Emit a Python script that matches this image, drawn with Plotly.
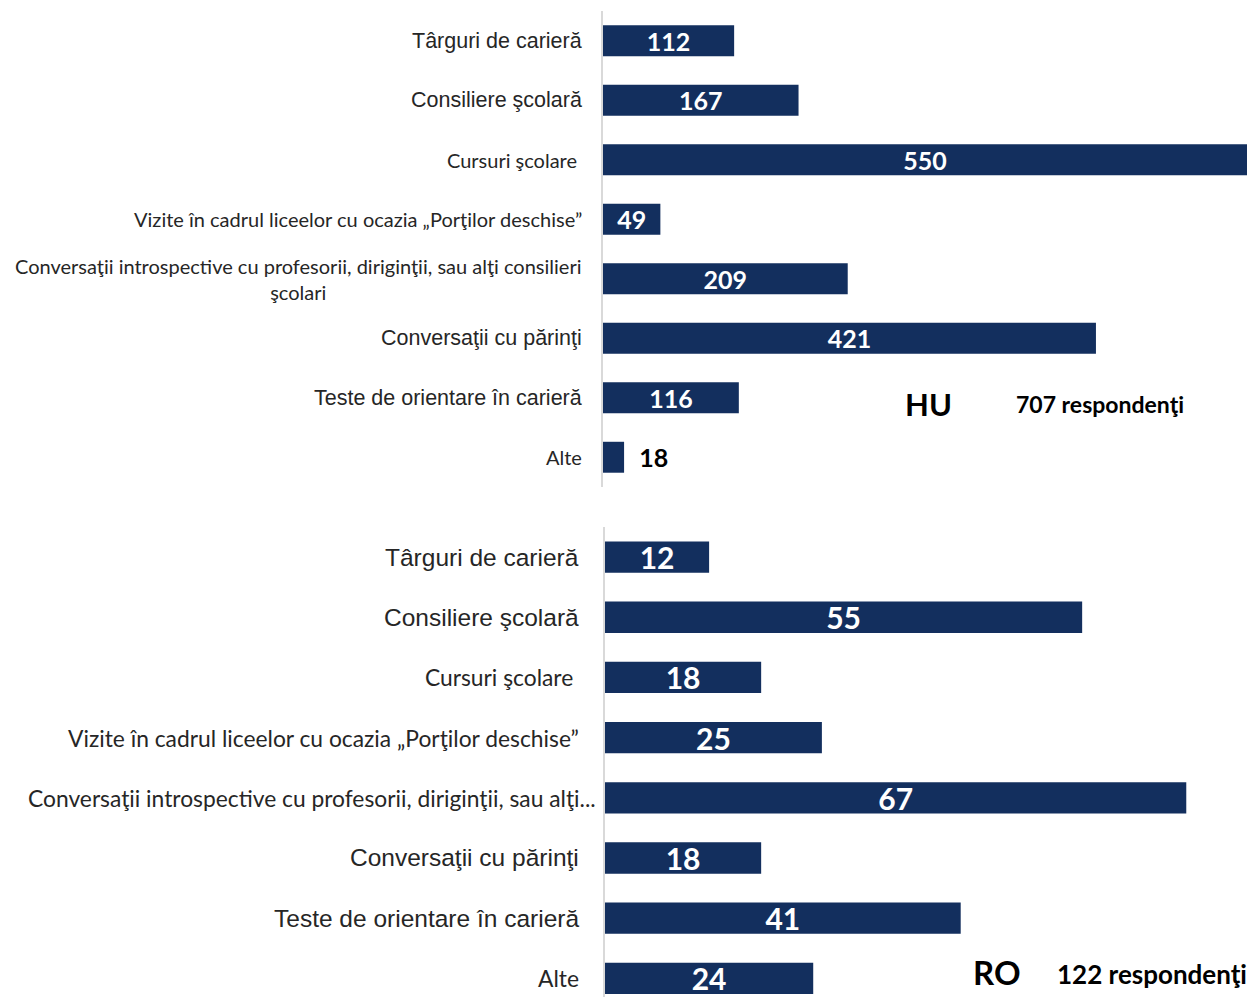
import plotly.graph_objects as go

# page body has an 8px default margin; figure sized to fit the window
OFF = 8
W, H = 1255 - 2 * OFF, 1005 - 2 * OFF

categories = [
    "Târguri de carieră",
    "Consiliere şcolară",
    "Cursuri şcolare",
    "Vizite în cadrul liceelor cu ocazia „Porţilor deschise”",
    "Conversaţii introspective cu profesorii, diriginţii, sau alţi consilieri şcolari",
    "Conversaţii cu părinţi",
    "Teste de orientare în carieră",
    "Alte",
]
labels_hu = [
    "Târguri de carieră",
    "Consiliere şcolară",
    "Cursuri şcolare ",
    "Vizite în cadrul liceelor cu ocazia „Porţilor deschise”",
    "Conversaţii introspective cu profesorii, diriginţii, sau alţi consilieri<br>şcolari",
    "Conversaţii cu părinţi",
    "Teste de orientare în carieră",
    "Alte",
]
labels_ro = [
    "Târguri de carieră",
    "Consiliere şcolară",
    "Cursuri şcolare ",
    "Vizite în cadrul liceelor cu ocazia „Porţilor deschise”",
    "Conversaţii introspective cu profesorii, diriginţii, sau alţi...",
    "Conversaţii cu părinţi",
    "Teste de orientare în carieră",
    "Alte",
]
# which labels look Arial-like (True) vs Calibri-like (False)
arial_like = [True, True, False, False, False, True, True, False]

values_hu = [112, 167, 550, 49, 209, 421, 116, 18]
values_ro = [12, 55, 18, 25, 67, 18, 41, 24]

title_hu = "HU"
resp_hu = "707 respondenţi"
title_ro = "RO"
resp_ro = "122 respondenţi"

BAR = "#132f5e"
ARIAL = "Liberation Sans, Arial, sans-serif"
CAL = "Lato, sans-serif"


def px(x):
    return (x - OFF) / W


def py(y):
    return 1 - (y - OFF) / H


fig = go.Figure()

pos_hu = ["inside" if v > 30 else "outside" for v in values_hu]
col_hu = ["white" if v > 30 else "black" for v in values_hu]
text_hu = [str(v) if v > 30 else "\u00a0\u00a0" + str(v) for v in values_hu]

fig.add_trace(go.Bar(
    y=categories, x=values_hu, orientation="h",
    marker=dict(color=BAR, line=dict(width=0)),
    width=0.52,
    text=text_hu,
    textposition=pos_hu, insidetextanchor="middle", textangle=0,
    textfont=dict(family=CAL, size=25, color=col_hu, weight="bold"),
    constraintext="none", cliponaxis=False,
    xaxis="x", yaxis="y", showlegend=False, hoverinfo="skip",
))

fig.add_trace(go.Bar(
    y=categories, x=values_ro, orientation="h",
    marker=dict(color=BAR, line=dict(width=0)),
    width=0.52,
    text=[str(v) for v in values_ro],
    textposition="inside", insidetextanchor="middle", textangle=0,
    textfont=dict(family=CAL, size=30, color="white", weight="bold"),
    constraintext="none", cliponaxis=False,
    xaxis="x2", yaxis="y2", showlegend=False, hoverinfo="skip",
))

ann = []
for i, c in enumerate(categories):
    ann.append(dict(
        x=px(584), xref="paper", y=c, yref="y", xanchor="right", yanchor="middle",
        text=labels_hu[i], showarrow=False, align="center",
        font=dict(family=ARIAL if arial_like[i] else CAL,
                  size=21.5 if arial_like[i] else 20, color="#262626"),
    ))
    ro_x = 598 if labels_ro[i].endswith("...") else 581
    ann.append(dict(
        x=px(ro_x), xref="paper", y=c, yref="y2", xanchor="right", yanchor="middle",
        text=labels_ro[i], showarrow=False, align="center",
        font=dict(family=ARIAL if arial_like[i] else CAL,
                  size=24.5 if arial_like[i] else 22.8, color="#262626"),
    ))

ann += [
    dict(x=px(928), y=py(404), xref="paper", yref="paper", xanchor="center", yanchor="middle",
         text=f"<b>{title_hu}</b>", showarrow=False, font=dict(family=CAL, size=31, color="black")),
    dict(x=px(1014), y=py(404), xref="paper", yref="paper", xanchor="left", yanchor="middle",
         text=f"<b>{resp_hu}</b>", showarrow=False, font=dict(family=CAL, size=23, color="black")),
    dict(x=px(997), y=py(972), xref="paper", yref="paper", xanchor="center", yanchor="middle",
         text=f"<b>{title_ro}</b>", showarrow=False, font=dict(family=CAL, size=33, color="black")),
    dict(x=px(1055), y=py(974), xref="paper", yref="paper", xanchor="left", yanchor="middle",
         text=f"<b>{resp_ro}</b>", showarrow=False, font=dict(family=CAL, size=26, color="black")),
]

fig.update_layout(
    width=W, height=H,
    margin=dict(l=0, r=0, t=0, b=0),
    paper_bgcolor="white", plot_bgcolor="white",
    annotations=ann,
    xaxis=dict(domain=[px(603), 1.0], range=[0, 550], visible=False, fixedrange=True),
    yaxis=dict(domain=[py(487), py(11)], type="category", categoryorder="array",
               categoryarray=categories, range=[7.5, -0.5], showticklabels=False,
               showline=True, linecolor="#d9d9d9", linewidth=1.5, ticks="",
               showgrid=False, zeroline=False, anchor="x"),
    xaxis2=dict(domain=[px(605), 1.0], range=[0, 74], visible=False, fixedrange=True,
                anchor="y2"),
    yaxis2=dict(domain=[0.0, py(527)], type="category", categoryorder="array",
                categoryarray=categories, range=[7.31, -0.5], showticklabels=False,
                showline=True, linecolor="#d9d9d9", linewidth=1.5, ticks="",
                showgrid=False, zeroline=False, anchor="x2"),
)

fig.write_html("out.html")
